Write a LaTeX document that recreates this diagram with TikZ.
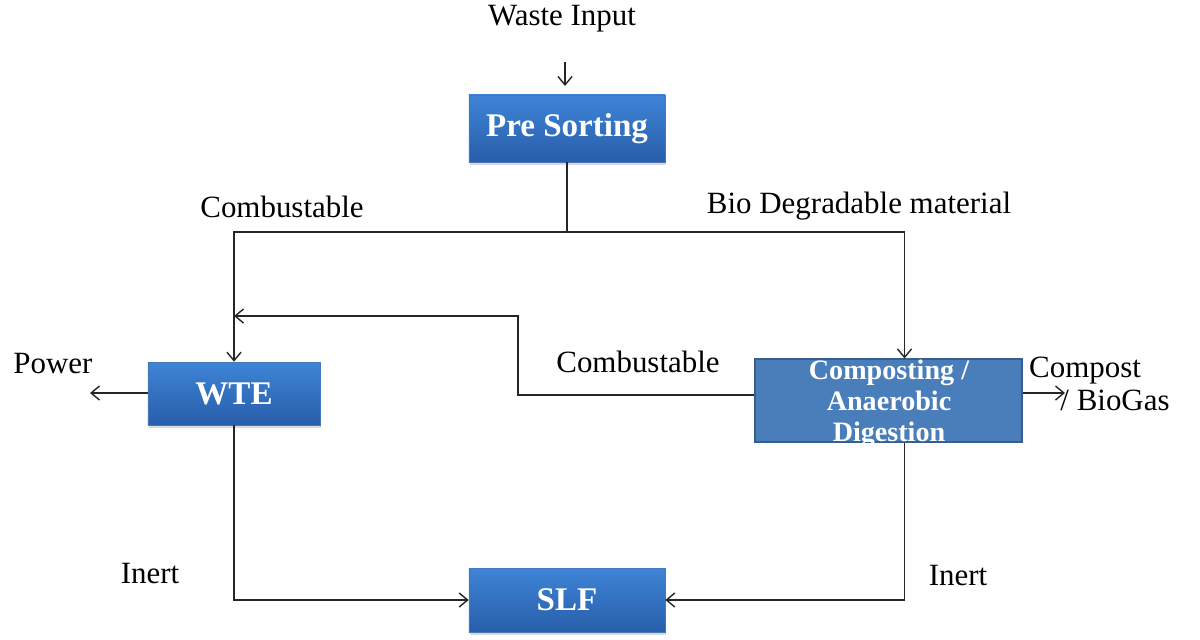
\documentclass[tikz,border=0pt]{standalone}
\usepackage{fontspec}
\setmainfont{Liberation Serif}
\usetikzlibrary{arrows.meta,shadows,calc}
\definecolor{boxtop}{RGB}{62,132,214}
\definecolor{boxbot}{RGB}{40,94,170}
\definecolor{boxedge}{RGB}{70,120,190}
\definecolor{compfill}{RGB}{74,126,187}
\definecolor{compedge}{RGB}{56,93,143}
\tikzset{
  bluebox/.style={rectangle, top color=boxtop, bottom color=boxbot, draw=boxedge, line width=0.4pt,
    text=white, font=\fontsize{23.5}{27}\selectfont\bfseries, inner sep=0pt,
    drop shadow={shadow xshift=0.6pt, shadow yshift=-2pt, opacity=0.3}},
  compbox/.style={rectangle, fill=compfill, draw=compedge, line width=0.8pt, inner sep=0pt},
  comptext/.style={text=white, font=\fontsize{20}{22}\selectfont\bfseries, align=center, inner sep=0pt},
  lbl/.style={font=\fontsize{22}{26}\selectfont, anchor=base, inner sep=0pt},
  conn/.style={line width=1pt, draw=black!85},
  arr/.style={conn, -{Straight Barb[length=6pt,width=10pt,line width=1pt]}},
}
\begin{document}
\begin{tikzpicture}[x=0.025cm, y=-0.025cm]
\useasboundingbox (0,0) rectangle (1200,639);

% boxes
\node[bluebox, minimum width=4.9cm, minimum height=1.675cm] (ps) at (567,128.5) {Pre Sorting};
\node[bluebox, minimum width=4.3cm, minimum height=1.575cm] (wte) at (234,393.5) {WTE};
\node[compbox, minimum width=6.675cm, minimum height=2.075cm] (comp) at (888.5,400.5) {};
\node[comptext] (comptxt) at (889,404) {Composting /\\Anaerobic\\Digestion};
\node[bluebox, minimum width=4.9cm, minimum height=1.6cm] (slf) at (567,600) {SLF};

% labels
\node[lbl] (win) at (562,25) {Waste Input};
\node[lbl] (lcomb) at (282,217) {Combustable};
\node[lbl] (lbio) at (859,213) {Bio Degradable material};
\node[lbl] (mcomb) at (638,372) {Combustable};
\node[lbl] (lpow) at (53,373) {Power};
\node[lbl] (lcompost) at (1085,377) {Compost};
\node[lbl] (lbiogas) at (1115,410) {/ BioGas};
\node[lbl] (linl) at (150,583) {Inert};
\node[lbl] (linr) at (958,585) {Inert};

% coordinates
\coordinate (wa) at (565,62);
\coordinate (wb) at (565,86);
\coordinate (j) at (567,232);
\coordinate (fbturn) at (518,395);
\coordinate (fbend) at (234,316);
\coordinate (powend) at (90,393);
\coordinate (compend) at (1065,393);

% connectors
\draw[arr] (wa) -- (wb);
\draw[conn] (ps.south) -- (j);
\draw[arr] (j) -| (wte.north);
\draw[arr] (j) -| ([xshift=0.4cm]comp.north);
\draw[arr] (comp.west |- fbturn) -- (fbturn) |- (fbend);
\draw[arr] (wte.west |- powend) -- (powend);
\draw[arr] (comp.east |- compend) -- (compend);
\draw[arr] (wte.south) |- (slf.west);
\draw[arr] ([xshift=0.4cm]comp.south) |- (slf.east);
\end{tikzpicture}
\end{document}
